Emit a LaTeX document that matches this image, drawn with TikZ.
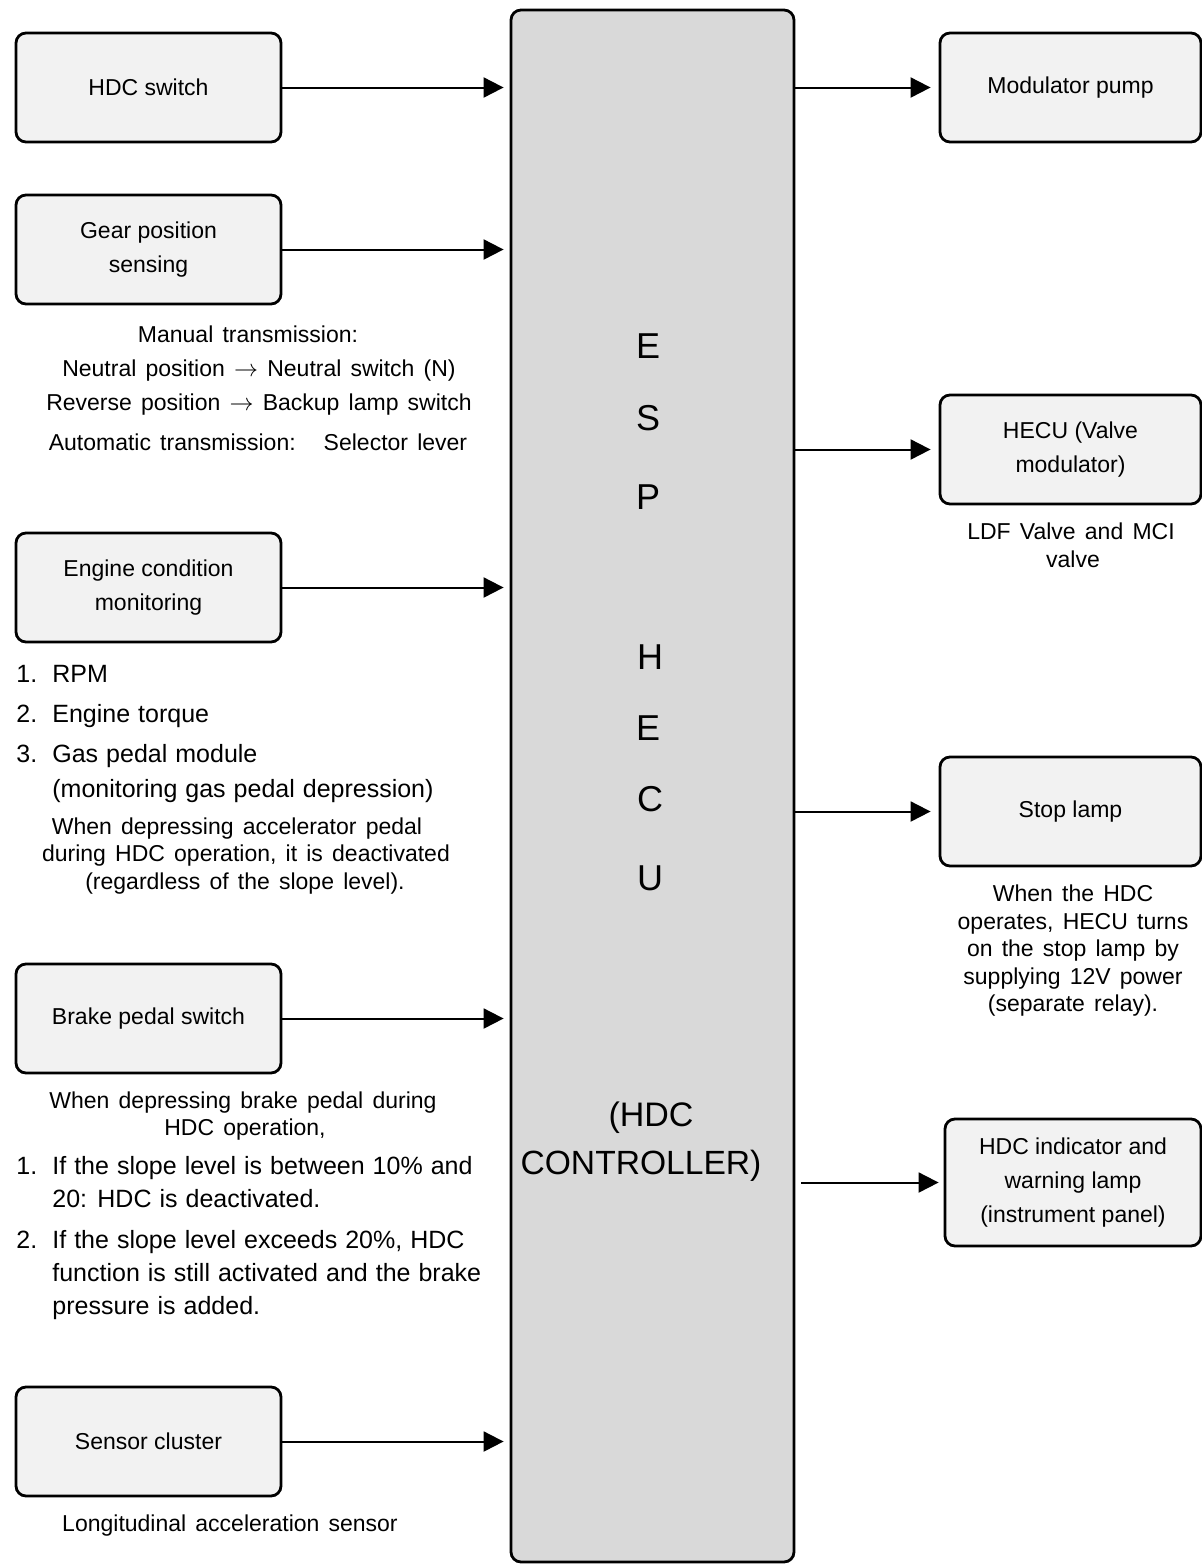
\documentclass[tikz,border=0pt]{standalone}
\usepackage{fontspec}
\setmainfont{Liberation Sans}
\usetikzlibrary{arrows.meta}
\definecolor{boxfill}{HTML}{F2F2F2}
\definecolor{ctrlfill}{HTML}{D9D9D9}
\newcommand\mynotefont{\fontsize{11.5}{14}\selectfont\spaceskip=0.4em plus 0.1em\relax}
\newcommand\myitemfont{\fontsize{12.5}{16}\selectfont\spaceskip=0.32em plus 0.1em\relax}
\begin{document}
\begin{tikzpicture}[x=0.5pt,y=-0.5pt,
  blk/.style={draw, line width=1.4pt, rounded corners=5pt, fill=boxfill,
    minimum width=132.5pt, minimum height=54.5pt, inner sep=0pt, align=center,
    font=\fontsize{11.5}{17}\selectfont},
  rblk/.style={blk, minimum width=130.5pt},
  arr/.style={-{Triangle[length=10pt,width=10pt]}, line width=1pt},
  note/.style={anchor=base, inner sep=0pt, font=\mynotefont},
  itm/.style={anchor=base west, inner sep=0pt, font=\myitemfont},
  big/.style={anchor=base, inner sep=0pt, font=\fontsize{18}{22}\selectfont}]
\useasboundingbox (0,0) rectangle (1202,1564);

% central controller
\node[draw, line width=1.4pt, rounded corners=5pt, fill=ctrlfill,
  minimum width=141.5pt, minimum height=776pt, inner sep=0pt] (ctrl) at (652.5,786) {};
\node[big] (l1) at (648,358) {E};
\node[big] (l2) at (648,430) {S};
\node[big] (l3) at (648,509) {P};
\node[big] (l4) at (650,669) {H};
\node[big] (l5) at (648,740) {E};
\node[big] (l6) at (650,811) {C};
\node[big] (l7) at (650,890) {U};
\node[big, font=\fontsize{17}{22}\selectfont] (l8) at (651,1126) {(HDC};
\node[big, font=\fontsize{16.8}{22}\selectfont] (l9) at (641,1174) {CONTROLLER)};

% left inputs
\node[blk] (hdc) at (148.5,87.5) {HDC switch};
\node[blk] (gear) at (148.5,249.5) {Gear position\\sensing};
\node[blk] (eng) at (148.5,587.5) {Engine condition\\monitoring};
\node[blk] (brk) at (148.5,1018.5) {Brake pedal switch};
\node[blk] (sens) at (148.5,1441.5) {Sensor cluster};

\foreach \n in {hdc,gear,eng,brk,sens}
  \draw[arr, shorten >=3pt] (\n.east) -- (\n.east -| ctrl.west);

% right outputs
\node[rblk] (pump) at (1070.5,87.5) {Modulator pump};
\node[rblk] (hecu) at (1070.5,449.5) {HECU (Valve\\modulator)};
\node[rblk] (stop) at (1070.5,811.5) {Stop lamp};
\node[blk, minimum width=128pt, minimum height=63.5pt] (ind) at (1073,1182.5)
  {HDC indicator and\\warning lamp\\(instrument panel)};

\foreach \n in {pump,hecu,stop}
  \draw[arr, shorten >=4pt] (ctrl.east |- \n.west) -- (\n.west);
\draw[arr, shorten <=3pt, shorten >=2.5pt] (ctrl.east |- ind.west) -- (ind.west);

% gear notes
\node[note] (g1) at (248,342) {Manual transmission:};
\node[note] (g2) at (259,376) {Neutral position $\rightarrow$ Neutral switch (N)};
\node[note] (g3) at (259,410) {Reverse position $\rightarrow$ Backup lamp switch};
\node[note] (g4) at (258,450) {Automatic transmission:\hspace{14pt}Selector lever};

% engine notes
\node[itm] (e1) at (16,682) {\makebox[18pt][l]{1.}RPM};
\node[itm] (e2) at (16,722) {\makebox[18pt][l]{2.}Engine torque};
\node[itm] (e3) at (16,762) {\makebox[18pt][l]{3.}Gas pedal module};
\node[itm] (e4) at (52,797) {(monitoring gas pedal depression)};
\node[note] (e5) at (237,834) {When depressing accelerator pedal};
\node[note] (e6) at (246,861) {during HDC operation, it is deactivated};
\node[note] (e7) at (245,889) {(regardless of the slope level).};

% brake notes
\node[note] (b1) at (243,1108) {When depressing brake pedal during};
\node[note] (b2) at (245,1135) {HDC operation,};
\node[itm] (b3) at (16,1174) {\makebox[18pt][l]{1.}If the slope level is between 10\% and};
\node[itm] (b4) at (52,1207) {20: HDC is deactivated.};
\node[itm] (b5) at (16,1248) {\makebox[18pt][l]{2.}If the slope level exceeds 20\%, HDC};
\node[itm] (b6) at (52,1281) {function is still activated and the brake};
\node[itm] (b7) at (52,1314) {pressure is added.};

% sensor note
\node[note] (s1) at (230,1531) {Longitudinal acceleration sensor};

% right notes
\node[note] (h1) at (1071,539) {LDF Valve and MCI};
\node[note] (h2) at (1073,567) {valve};
\node[note] (t1) at (1073,901) {When the HDC};
\node[note] (t2) at (1073,929) {operates, HECU turns};
\node[note] (t3) at (1073,956) {on the stop lamp by};
\node[note] (t4) at (1073,984) {supplying 12V power};
\node[note] (t5) at (1073,1011) {(separate relay).};
\end{tikzpicture}
\end{document}
